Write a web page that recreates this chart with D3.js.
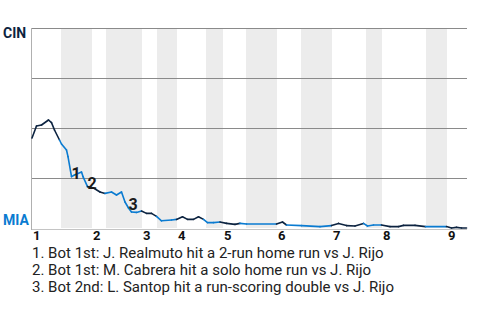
<!DOCTYPE html>
<html>
<head>
<meta charset="utf-8">
<script src="https://cdnjs.cloudflare.com/ajax/libs/d3/7.8.5/d3.min.js"></script>
<style>
  body { margin: 0; background: #fff; }
  svg { font-family: Roboto, "Liberation Sans", sans-serif; }
</style>
</head>
<body>
<script>
// game progress is measured in events (plate appearances etc.)
const innings = ["1", "2", "3", "4", "5", "6", "7", "8", "9"];
const inningStart = [0, 12, 22, 29, 38.2, 49, 60, 70, 83];
const bottomStart = [5.8, 14.8, 25, 34.8, 42.8, 53.8, 66.8, 78.8];
const gameEnd = 87;

// CIN win probability (top = CIN, bottom = MIA)
const eventX = [0, 0.9, 1.9, 3.3, 3.9, 4.5, 5.5, 5.9, 6.9, 7.2, 7.9, 8.5, 9.9, 10.2, 11.1,
  12.3, 13.6, 14.6, 15.9, 16.9, 17.9, 18.6, 19.3, 19.9, 20.9, 21.9, 22.9, 23.9, 24.9, 25.9,
  27.9, 28.9, 30.1, 31.1, 32.3, 33.3, 34.3, 35.1, 36.3, 37.6, 38.9, 40.6, 41.6, 42.9, 48.9,
  50.1, 50.9, 53.9, 57.6, 59.9, 61.3, 62.9, 64.6, 66.3, 67.1, 68.3, 69.9, 71.6, 73.3, 74.3,
  76.6, 78.7, 82.9, 83.9, 84.9, 85.9, 86.9];
const cinProb = [0.45, 0.51, 0.515, 0.54, 0.527, 0.49, 0.44, 0.42, 0.39, 0.357, 0.257, 0.265, 0.28, 0.257, 0.207,
  0.2, 0.18, 0.173, 0.18, 0.165, 0.18, 0.13, 0.1, 0.08, 0.078, 0.085, 0.073, 0.073, 0.058, 0.036,
  0.04, 0.043, 0.056, 0.043, 0.043, 0.056, 0.043, 0.027, 0.027, 0.03, 0.023, 0.018, 0.023, 0.02, 0.02,
  0.03, 0.015, 0.012, 0.007, 0.012, 0.023, 0.012, 0.01, 0.023, 0.01, 0.015, 0.015, 0.007, 0.007, 0.013,
  0.013, 0.007, 0.007, 0.0, 0.003, 0.0, 0.0];

const noteAt = [10, 14, 22];
const notes = [
  "1. Bot 1st: J. Realmuto hit a 2-run home run vs J. Rijo",
  "2. Bot 1st: M. Cabrera hit a solo home run vs J. Rijo",
  "3. Bot 2nd: L. Santop hit a run-scoring double vs J. Rijo"
];

const w = 480, h = 320;
const padL = 32, padR = 467, padT = 28, padB = 228;
const cinColor = "#0c2340", miaColor = "#0a7bd1";

const x = d3.scaleLinear().domain([0, gameEnd]).range([padL, padR]);
const y = d3.scaleLinear().domain([0, 1]).range([padB, padT]);

const svg = d3.select("body").append("svg").attr("width", w).attr("height", h);

// bottom-half shading
svg.selectAll("rect.band")
  .data(bottomStart)
  .enter()
  .append("rect")
  .attr("class", "band")
  .attr("x", (d) => x(d))
  .attr("y", padT)
  .attr("width", (d, i) => x(inningStart[i + 1]) - x(d))
  .attr("height", padB - padT)
  .attr("fill", "#ececec");

// grid lines
svg.append("g")
  .selectAll("line")
  .data([1, 0.75, 0.5, 0.25])
  .enter()
  .append("line")
  .attr("x1", padL).attr("x2", padR)
  .attr("y1", (d) => Math.round(y(d)) + 0.5)
  .attr("y2", (d) => Math.round(y(d)) + 0.5)
  .attr("stroke", "#8a8a8a")
  .attr("stroke-width", 1);

svg.append("line")
  .attr("x1", padL).attr("x2", padR)
  .attr("y1", padB + 1.5).attr("y2", padB + 1.5)
  .attr("stroke", "#c4c4c4");
svg.append("line")
  .attr("x1", padL - 0.5).attr("x2", padL - 0.5)
  .attr("y1", padT).attr("y2", padB + 2)
  .attr("stroke", "#b0b0b0");

// line, coloured by the batting team
const pts = eventX.map((d, i) => [d, cinProb[i]]);
const isBottom = (e) => bottomStart.some((b, i) => e >= b && e < inningStart[i + 1]);
const seg = d3.line().x((d) => x(d[0])).y((d) => y(d[1]));

svg.append("g")
  .selectAll("path")
  .data(d3.pairs(pts))
  .enter()
  .append("path")
  .attr("d", (d) => seg(d))
  .attr("fill", "none")
  .attr("stroke", (d) => (isBottom(d[1][0]) ? miaColor : cinColor))
  .attr("stroke-width", 1.6)
  .attr("stroke-linecap", "round")
  .attr("stroke-linejoin", "round");

// event markers
svg.append("g")
  .selectAll("text")
  .data(noteAt)
  .enter()
  .append("text")
  .attr("x", (d) => x(eventX[d]))
  .attr("y", (d) => y(cinProb[d]) + 2)
  .attr("font-size", 16)
  .attr("font-weight", "bold")
  .attr("fill", "#1a1a1a")
  .text((d, i) => i + 1);

// team labels
svg.append("text").attr("x", 3).attr("y", 38)
  .attr("font-size", 14).attr("font-weight", "bold")
  .attr("fill", cinColor).text("CIN");
svg.append("text").attr("x", 3).attr("y", 225)
  .attr("font-size", 14).attr("font-weight", "bold")
  .attr("fill", miaColor).text("MIA");

// inning labels
svg.append("g")
  .selectAll("text")
  .data(innings)
  .enter()
  .append("text")
  .attr("x", (d, i) => x(inningStart[i]) + 1)
  .attr("y", 240)
  .attr("font-size", 13)
  .attr("font-weight", "bold")
  .attr("fill", "#111")
  .text((d) => d);

// notes
svg.append("g")
  .selectAll("text")
  .data(notes)
  .enter()
  .append("text")
  .attr("x", 32)
  .attr("y", (d, i) => 257.5 + i * 17)
  .attr("font-size", 15)
  .attr("fill", "#222")
  .text((d) => d);
</script>
</body>
</html>
